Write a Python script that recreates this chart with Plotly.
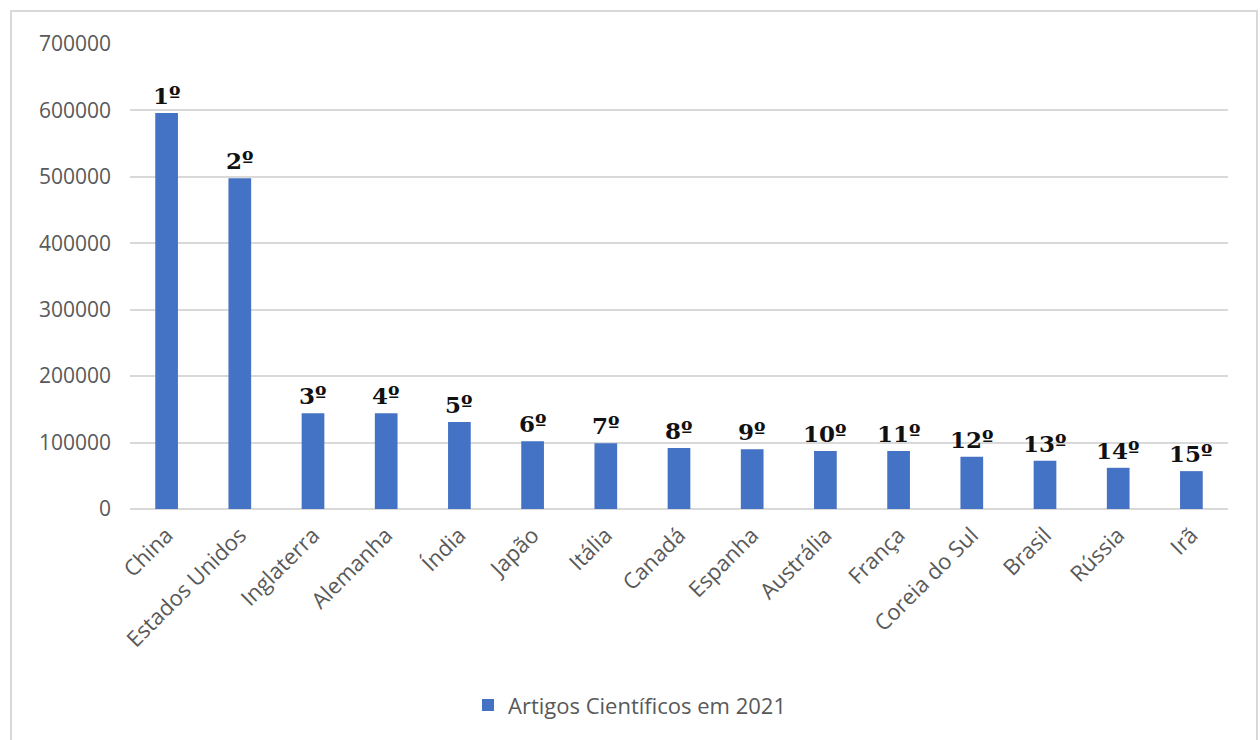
import plotly.graph_objects as go

# Scientific articles published in 2021, top 15 countries
paises = ["China", "Estados Unidos", "Inglaterra", "Alemanha", "Índia", "Japão",
          "Itália", "Canadá", "Espanha", "Austrália", "França", "Coreia do Sul",
          "Brasil", "Rússia", "Irã"]
artigos = [596000, 498000, 144000, 144000, 131000, 102000, 99000, 92000,
           90000, 87500, 87500, 78500, 72500, 62000, 57000]
posicoes = ["1º", "2º", "3º", "4º", "5º", "6º", "7º", "8º", "9º", "10º",
            "11º", "12º", "13º", "14º", "15º"]
y_ticks = [0, 100000, 200000, 300000, 400000, 500000, 600000, 700000]

W, H = 1260, 740
ML, MR, MT, MB = 130, 32, 44, 231

BLUE = "#4472C4"
GRID = "#D9D9D9"
TXT = "#595959"

fig = go.Figure()
fig.add_trace(go.Bar(
    x=paises, y=artigos, name="Artigos Científicos em 2021",
    marker=dict(color=BLUE, line=dict(width=0)),
))

# rank labels above each bar
for p, v, r in zip(paises, artigos, posicoes):
    fig.add_annotation(
        x=p, y=v, text=f"<b>{r}</b>", showarrow=False,
        yanchor="bottom", yshift=2,
        font=dict(family="DejaVu Serif", size=23, color="#111111"),
    )

# light frame around the chart area
pw, ph = W - ML - MR, H - MT - MB
def px_x(x):
    return (x - ML) / pw
def px_y(y):
    return (H - MB - y) / ph
fig.add_shape(type="rect", xref="paper", yref="paper",
              x0=px_x(11), x1=px_x(1257), y0=px_y(745), y1=px_y(11),
              line=dict(color=GRID, width=2), fillcolor="rgba(0,0,0,0)", layer="below")

fig.update_layout(
    width=W, height=H,
    margin=dict(l=ML, r=MR, t=MT, b=MB),
    paper_bgcolor="white", plot_bgcolor="white",
    bargap=0.69,
    showlegend=True,
    legend=dict(orientation="h", xref="container", yref="container",
                x=0.5, xanchor="center", y=0.047, yanchor="middle",
                font=dict(family="Open Sans", size=22, color=TXT),
                itemwidth=30),
    font=dict(family="Open Sans", color=TXT),
    xaxis=dict(
        tickangle=-45, tickfont=dict(family="Open Sans", size=22, color=TXT),
        showgrid=False, showline=False, ticks="", zeroline=False,
        ticklabelstandoff=8,
    ),
    yaxis=dict(
        range=[0, 700000], tickvals=y_ticks,
        ticktext=[str(v) for v in y_ticks],
        tickfont=dict(family="Open Sans", size=21, color=TXT),
        showgrid=True, gridcolor=GRID, gridwidth=2,
        zeroline=True, zerolinecolor=GRID, zerolinewidth=2,
        showline=False, ticks="", ticklabelstandoff=18,
    ),
)

fig.write_html("out.html")
